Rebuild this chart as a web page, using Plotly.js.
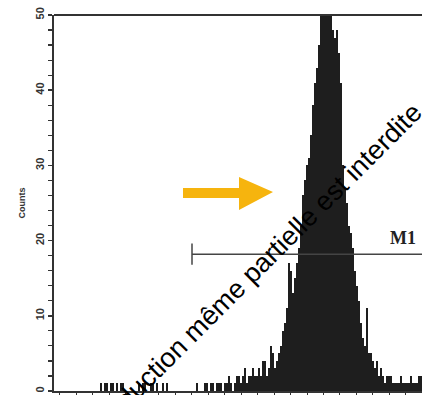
<!DOCTYPE html>
<html>
<head>
<meta charset="utf-8">
<script src="https://cdn.plot.ly/plotly-3.0.1.min.js"></script>
<style>html,body{margin:0;padding:0;background:#fff;overflow:hidden;}#chart{width:422px;height:395px;}</style>
</head>
<body>
<div id="chart"></div>
<script>
// Histogram counts per channel (channel index = position in array)
const counts = [
  0,0,0,0,0,0,0,0,0,0,
  0,0,0,0,0,0,0,0,0,0,
  0,0,0,1,0,1,1,0,1,1,
  0,1,0,1,1,0,0,0,0,0,
  0,0,1,0,1,1,0,0,1,1,
  0,1,0,0,1,0,1,0,0,0,
  0,0,0,0,0,0,0,0,0,0,
  0,1,0,0,0,1,1,0,1,1,
  0,1,1,1,0,1,1,2,1,0,
  1,2,2,1,2,3,1,2,2,3,
  2,2,3,2,4,4,2,3,6,5,
  3,4,5,6,8,9,11,17,16,13,
  15,17,19,22,26,28,30,31,34,38,
  41,43,46,52,55,53,56,54,51,48,
  47,48,45,41,30,27,25,22,21,19,
  16,14,12,9,7,6,11,5,5,4,
  3,4,2,3,2,1,2,2,2,1,
  1,1,1,2,1,1,1,1,2,1,
  1,1,2,2
];
const channels = counts.map((_, i) => i);
const yTickVals = [0, 10, 20, 30, 40, 50];
const yTickText = ['0', '10', '20', '30', '40', '50'];
const markerName = 'M1';
const markerStart = 68.5;
const markerLevel = 18.2;
const yTitle = 'Counts';
const watermark = 'Reproduction même partielle est interdite';

const trace = {
  type: 'bar',
  x: channels,
  y: counts,
  width: 1,
  marker: {color: '#1e1e1e', line: {width: 0}},
  hoverinfo: 'skip'
};

const axisColor = '#333';
const layout = {
  width: 422, height: 395,
  margin: {l: 54, r: 0, t: 15, b: 4, pad: 0},
  paper_bgcolor: '#fff', plot_bgcolor: '#fff',
  showlegend: false,
  bargap: 0,
  xaxis: {
    range: [-0.5, 183.5],
    showline: true, linecolor: axisColor, linewidth: 2, mirror: false,
    showgrid: false, zeroline: false,
    ticks: 'outside', ticklen: 4, tickwidth: 1, tickcolor: axisColor,
    tick0: 2.4, dtick: 8.24,
    showticklabels: false
  },
  yaxis: {
    range: [0, 50],
    showline: true, linecolor: axisColor, linewidth: 2, mirror: false,
    showgrid: false, zeroline: false,
    ticks: 'outside', ticklen: 4, tickwidth: 1.5, tickcolor: axisColor,
    tickmode: 'array', tickvals: yTickVals, ticktext: yTickText,
    tickangle: -90,
    tickfont: {family: 'Liberation Sans, Arial, sans-serif', size: 11, color: '#333', weight: 'bold'},
    minor: {dtick: 2, ticks: 'outside', ticklen: 4, tickwidth: 1.2, tickcolor: axisColor, showgrid: false},
    title: {text: yTitle, font: {family: 'Liberation Sans, Arial, sans-serif', size: 9, color: '#333', weight: 'bold'}, standoff: 6}
  },
  shapes: [
    {type: 'line', xref: 'paper', yref: 'paper', x0: 0, x1: 1, y0: 1, y1: 1,
     line: {color: axisColor, width: 2}},
    {type: 'line', xref: 'x', yref: 'y', x0: markerStart, x1: 183.5, y0: markerLevel, y1: markerLevel,
     line: {color: '#444', width: 1.5}},
    {type: 'line', xref: 'x', yref: 'y', x0: markerStart, x1: markerStart, y0: markerLevel - 1.4, y1: markerLevel + 1.4,
     line: {color: '#444', width: 1.5}},
    {type: 'path', xref: 'x', yref: 'y',
     path: 'M 64 27 L 92 27 L 92 28.46 L 109 26.46 L 92 24.07 L 92 25.67 L 64 25.67 Z',
     fillcolor: '#f6b40e', line: {width: 0}}
  ],
  annotations: [
    {xref: 'x', yref: 'y', x: 174, y: 20.3, text: markerName, showarrow: false,
     font: {family: 'Liberation Serif, Times New Roman, serif', size: 18, color: '#222', weight: 'bold'}},
    {xref: 'paper', yref: 'paper', x: 0.5136, y: 0.29, text: watermark, showarrow: false,
     textangle: -45, xanchor: 'center', yanchor: 'middle',
     font: {family: 'Liberation Sans, Arial, sans-serif', size: 27, color: '#000'}}
  ]
};

Plotly.newPlot('chart', [trace], layout, {staticPlot: true, displayModeBar: false});
</script>
</body>
</html>
